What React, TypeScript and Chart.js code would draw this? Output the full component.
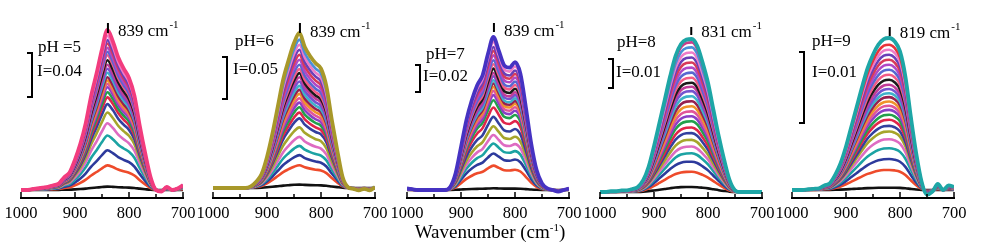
import React, { useEffect, useRef } from 'react';
import { Chart, registerables } from 'chart.js';
Chart.register(...registerables);

// ---------------- DATA ----------------
const WAVENUMBERS = [1000, 990, 980, 970, 960, 950, 940, 930, 920, 910, 900, 890, 880, 870, 860, 850, 840, 830, 820, 810, 800, 790, 780, 770, 760, 750, 740, 730, 720, 710, 700];
const TICK_VALUES = [1000, 950, 900, 850, 800, 750, 700];
const TICK_LABELS = ['1000', '900', '800', '700'];

// normalized band profile of the strongest spectrum in each panel
const SHAPE_PH5 = [0, 0, 0.005, 0.01, 0.015, 0.02, 0.03, 0.04, 0.08, 0.11, 0.19, 0.29, 0.42, 0.59, 0.73, 0.88, 1.0, 0.93, 0.83, 0.76, 0.70, 0.59, 0.40, 0.23, 0.08, 0.0, -0.01, 0.02, 0.0, 0.01, 0.03];
const SHAPE_PH6 = [0, 0, 0, 0, 0, 0, 0, 0.01, 0.04, 0.09, 0.2, 0.35, 0.525, 0.70, 0.825, 0.935, 1.0, 0.91, 0.85, 0.805, 0.77, 0.655, 0.44, 0.245, 0.07, 0.005, -0.005, -0.015, -0.005, -0.015, 0.005];
const SHAPE_PH7 = [0.01, 0.005, 0, 0, 0, 0, 0, 0, 0.02, 0.11, 0.28, 0.457, 0.587, 0.685, 0.75, 0.89, 1.0, 0.91, 0.815, 0.80, 0.835, 0.76, 0.543, 0.304, 0.13, 0.043, 0.01, 0, -0.01, 0, 0.01];
const SHAPE_PH8 = [0, 0, 0.005, 0.005, 0.01, 0.011, 0.02, 0.033, 0.077, 0.165, 0.3, 0.451, 0.604, 0.758, 0.89, 0.967, 0.996, 1.0, 0.956, 0.846, 0.714, 0.538, 0.363, 0.209, 0.077, 0.011, 0, 0, 0, 0, 0];
const SHAPE_PH9 = [0, 0, 0, 0.005, 0.008, 0.011, 0.03, 0.044, 0.099, 0.176, 0.286, 0.418, 0.549, 0.681, 0.802, 0.89, 0.956, 0.993, 1.0, 0.978, 0.912, 0.747, 0.483, 0.242, 0.055, -0.03, -0.011, 0.04, 0, 0.03, 0.02];

// relative peak height of each spectrum (bottom to top)
const LEVELS_PH5 = [0.021, 0.154, 0.248, 0.341, 0.417, 0.484, 0.537, 0.579, 0.611, 0.642, 0.663, 0.684, 0.705, 0.733, 0.758, 0.783, 0.811, 0.842, 0.863, 0.888, 0.916, 0.937, 0.964, 1.0];
const LEVELS_PH6 = [0.022, 0.147, 0.212, 0.272, 0.330, 0.391, 0.449, 0.486, 0.521, 0.551, 0.579, 0.607, 0.633, 0.659, 0.687, 0.715, 0.741, 0.767, 0.795, 0.827, 0.860, 0.892, 0.924, 0.957, 1.0];
const LEVELS_PH7 = [0.011, 0.159, 0.239, 0.304, 0.359, 0.417, 0.478, 0.539, 0.587, 0.620, 0.648, 0.674, 0.696, 0.717, 0.743, 0.765, 0.793, 0.822, 0.848, 0.880, 0.909, 0.935, 0.967, 1.0];
const LEVELS_PH8 = [0.033, 0.132, 0.198, 0.253, 0.297, 0.341, 0.385, 0.422, 0.462, 0.495, 0.527, 0.560, 0.593, 0.626, 0.659, 0.688, 0.714, 0.747, 0.780, 0.813, 0.846, 0.879, 0.912, 0.945, 0.978, 1.0];
const LEVELS_PH9 = [0.015, 0.132, 0.204, 0.275, 0.334, 0.385, 0.422, 0.462, 0.495, 0.527, 0.554, 0.582, 0.611, 0.637, 0.664, 0.692, 0.725, 0.758, 0.791, 0.824, 0.857, 0.890, 0.923, 0.956, 1.0];

// absolute intensity of the strongest band in each panel
const PEAK_INTENSITIES = [0.1455, 0.1845, 0.1133, 0.0528, 0.0214];

const PH_LABELS = ['pH =5', 'pH=6', 'pH=7', 'pH=8', 'pH=9'];
const SCALE_BAR_VALUES = [0.04, 0.05, 0.02, 0.01, 0.01];
const SCALE_BAR_LABELS = ['I=0.04', 'I=0.05', 'I=0.02', 'I=0.01', 'I=0.01'];
const PEAK_WAVENUMBERS = [839, 839, 839, 831, 819];
const PEAK_LABELS = ['839 cm', '839 cm', '839 cm', '831 cm', '819 cm'];
const AXIS_TITLE = 'Wavenumber (cm';

// ---------------- STYLE / LAYOUT ----------------
const PALETTE = ['#111111', '#EE4B2B', '#2D3A9C', '#1CA3A3', '#DE6BC2', '#A6A52C', '#33409E', '#E0254A', '#22A04C', '#8B3FC6', '#E0559A', '#F0922A', '#962050', '#3EB2C9', '#7553CF', '#C23C98', '#1A1A1A', '#F25B86', '#5868D0', '#B048C6', '#D83A5A', '#6A3FB8', '#EE7BC8', '#4A8FD8', '#C83E8C', '#8A8A2A'];
const TOP_COLORS = ['#F23C7E', '#A8982A', '#4633C2', '#1EA6A6', '#1EA6A6'];
const SECOND_COLORS = [null, null, null, null, '#E8333A'];

const SHAPES = [SHAPE_PH5, SHAPE_PH6, SHAPE_PH7, SHAPE_PH8, SHAPE_PH9];
const LEVELS = [LEVELS_PH5, LEVELS_PH6, LEVELS_PH7, LEVELS_PH8, LEVELS_PH9];

const PAD = 20;
const PLOT_W = 162;
const CANVAS_W = PLOT_W + 2 * PAD;
const CANVAS_H = 244;
const AREA_TOP = 10;
const AXIS_Y = 198;
const FONT = '"Liberation Serif", "Times New Roman", serif';

const LAYOUT = [
  { axisLeft: 21, baseY: 190, peakY: 30, phX: 38, phY: 48, iX: 37, iY: 72, barX: 32, barTop: 53, markTop: 23, markBottom: 33, labelY: 32 },
  { axisLeft: 213, baseY: 188, peakY: 33, phX: 235, phY: 42, iX: 233, iY: 70, barX: 227, barTop: 57, markTop: 23, markBottom: 33, labelY: 33 },
  { axisLeft: 407, baseY: 190, peakY: 37, phX: 426, phY: 55, iX: 423, iY: 77, barX: 420, barTop: 65, markTop: 23, markBottom: 32, labelY: 32 },
  { axisLeft: 600, baseY: 192, peakY: 39, phX: 617, phY: 43, iX: 616, iY: 73, barX: 613, barTop: 59, markTop: 27, markBottom: 35, labelY: 33 },
  { axisLeft: 792, baseY: 190, peakY: 38, phX: 812, phY: 42, iX: 812, iY: 73, barX: 804, barTop: 52, markTop: 27, markBottom: 36, labelY: 34 },
];

function Panel({ index }: { index: number }) {
  const ref = useRef<HTMLCanvasElement | null>(null);
  const lay = LAYOUT[index];
  const canvasLeft = lay.axisLeft - PAD;

  useEffect(() => {
    if (!ref.current) return;
    const shape = SHAPES[index];
    const levels = LEVELS[index];
    const peak = PEAK_INTENSITIES[index];
    const n = levels.length;

    const datasets = levels
      .map((lv, k) => {
        const isTop = k === n - 1;
        const isSecond = k === n - 2;
        let color = PALETTE[k % PALETTE.length];
        if (isTop) color = TOP_COLORS[index];
        else if (isSecond && SECOND_COLORS[index]) color = SECOND_COLORS[index] as string;
        return {
          data: WAVENUMBERS.map((wn, i) => ({ x: wn, y: shape[i] * lv * peak })),
          borderColor: color,
          borderWidth: isTop ? 3.8 : 2.6,
          pointRadius: 0,
          cubicInterpolationMode: 'monotone' as const,
          fill: false,
        };
      })
      .reverse();

    const pxPerUnit = (lay.baseY - lay.peakY) / peak;
    const yMin = -(AXIS_Y - lay.baseY) / pxPerUnit;
    const yMax = yMin + (AXIS_Y - AREA_TOP) / pxPerUnit;

    const annot = {
      id: 'annot' + index,
      afterDraw(chart: any) {
        const ctx = chart.ctx as CanvasRenderingContext2D;
        const xs = chart.scales.x;
        const ys = chart.scales.y;
        const ca = chart.chartArea;
        ctx.save();
        ctx.strokeStyle = '#000';
        ctx.fillStyle = '#000';
        // tick marks pointing up
        ctx.lineWidth = 1.5;
        for (const v of TICK_VALUES) {
          const x = xs.getPixelForValue(v);
          const len = v % 100 === 0 ? 6 : 4;
          ctx.beginPath();
          ctx.moveTo(x, ca.bottom);
          ctx.lineTo(x, ca.bottom - len);
          ctx.stroke();
        }
        // scale bar
        const barLen = ys.getPixelForValue(0) - ys.getPixelForValue(SCALE_BAR_VALUES[index]);
        const bx = lay.barX - canvasLeft;
        const bt = lay.barTop;
        ctx.lineWidth = 2;
        ctx.beginPath();
        ctx.moveTo(bx - 5, bt);
        ctx.lineTo(bx, bt);
        ctx.lineTo(bx, bt + barLen);
        ctx.lineTo(bx - 5, bt + barLen);
        ctx.stroke();
        // texts
        ctx.font = '17px ' + FONT;
        ctx.textBaseline = 'middle';
        ctx.textAlign = 'left';
        ctx.fillText(PH_LABELS[index], lay.phX - canvasLeft, lay.phY);
        ctx.fillText(SCALE_BAR_LABELS[index], lay.iX - canvasLeft, lay.iY);
        // peak marker
        const px = xs.getPixelForValue(PEAK_WAVENUMBERS[index]);
        ctx.lineWidth = 2;
        ctx.beginPath();
        ctx.moveTo(px, lay.markTop);
        ctx.lineTo(px, lay.markBottom);
        ctx.stroke();
        const tx = px + 10;
        ctx.fillText(PEAK_LABELS[index], tx, lay.labelY);
        const w = ctx.measureText(PEAK_LABELS[index]).width;
        ctx.font = '11px ' + FONT;
        ctx.fillText('-1', tx + w + 1, lay.labelY - 7);
        ctx.restore();
      },
    };

    const chart = new Chart(ref.current, {
      type: 'line',
      data: { datasets: datasets as any },
      options: {
        responsive: false,
        animation: false,
        events: [],
        layout: { padding: { left: PAD, right: PAD, top: AREA_TOP, bottom: 0 } },
        plugins: { legend: { display: false }, tooltip: { enabled: false } },
        scales: {
          x: {
            type: 'linear',
            reverse: true,
            min: 700,
            max: 1000,
            grid: { display: false },
            border: { display: true, color: '#000', width: 2 },
            afterBuildTicks: (scale: any) => {
              scale.ticks = TICK_LABELS.map((t) => ({ value: Number(t) }));
            },
            afterFit: (scale: any) => {
              scale.height = CANVAS_H - AXIS_Y;
            },
            ticks: {
              autoSkip: false,
              maxRotation: 0,
              padding: -2,
              color: '#000',
              font: { family: FONT, size: 16.5 },
              callback: (v: any) => String(v),
            },
          },
          y: { display: false, min: yMin, max: yMax },
        },
      },
      plugins: [annot],
    });
    return () => chart.destroy();
  }, [index]);

  return (
    <canvas
      ref={ref}
      width={CANVAS_W}
      height={CANVAS_H}
      style={{ position: 'absolute', left: canvasLeft, top: 0, width: CANVAS_W, height: CANVAS_H }}
    />
  );
}

export default function App() {
  return (
    <div style={{ position: 'absolute', left: 0, top: 0, width: 992, height: 244, background: '#fff', overflow: 'hidden' }}>
      {LAYOUT.map((_, i) => (
        <Panel key={i} index={i} />
      ))}
      <div
        style={{
          position: 'absolute',
          left: 390,
          width: 200,
          top: 222,
          textAlign: 'center',
          fontFamily: FONT,
          fontSize: 19,
          lineHeight: '20px',
          color: '#000',
          whiteSpace: 'nowrap',
        }}
      >
        {AXIS_TITLE}
        <span style={{ fontSize: 11, position: 'relative', top: -7 }}>-1</span>)
      </div>
    </div>
  );
}
